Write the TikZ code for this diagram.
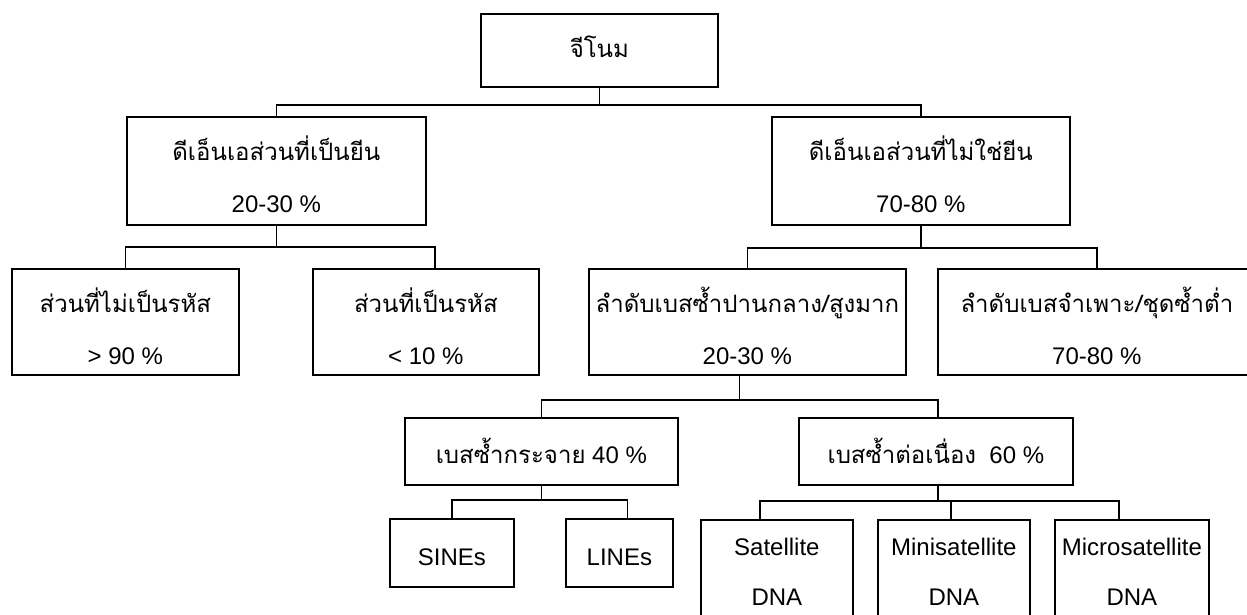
\documentclass[tikz,border=0pt]{standalone}
\usepackage{fontspec}
\setmainfont{Liberation Sans}
\newfontfamily\thai[Script=Thai]{Loma}
\usetikzlibrary{calc}
\tikzset{
  box/.style={draw, line width=1.7pt, inner sep=0pt, anchor=north west},
  txt/.style={anchor=base, inner sep=0pt, font=\fontsize{24}{28}\selectfont},
  conn/.style={line width=1.7pt},
}
\newcommand\mkbox[5]{\node[box, minimum width={(#4-#2)*1pt}, minimum height={(#5-#3)*1pt}] (#1) at (#2,#3) {};}
\begin{document}
\begin{tikzpicture}[x=1pt,y=-1pt]
\useasboundingbox (0,0) rectangle (1247,614);
\clip (0,0) rectangle (1247,614);
% boxes
\mkbox{G}{480}{13}{717}{86}
\mkbox{L1}{126}{116}{425}{224}
\mkbox{R1}{771}{116}{1069}{224}
\mkbox{L2a}{11}{268}{238}{374}
\mkbox{L2b}{312}{268}{538}{374}
\mkbox{R2a}{588}{268}{905}{374}
\mkbox{R2b}{937}{268}{1255}{374}
\mkbox{D}{404}{417}{677}{484}
\mkbox{T}{798}{417}{1072}{484}
\mkbox{SINE}{389}{518}{513}{586}
\mkbox{LINE}{565}{518}{672}{586}
\mkbox{Sat}{700}{519}{852}{640}
\mkbox{Mini}{877}{519}{1029}{640}
\mkbox{Mic}{1054}{519}{1208}{640}
% texts
\node[txt] (Gt) at (G.center |- 0,57) {\thai จีโนม};
\node[txt] (L1t) at (L1.center |- 0,160) {\thai ดีเอ็นเอส่วนที่เป็นยีน};
\node[txt] (L1p) at (L1.center |- 0,212) {20-30 \%};
\node[txt] (R1t) at (R1.center |- 0,160) {\thai ดีเอ็นเอส่วนที่ไม่ใช่ยีน};
\node[txt] (R1p) at (R1.center |- 0,212) {70-80 \%};
\node[txt] (L2at) at (L2a.center |- 0,312) {\thai ส่วนที่ไม่เป็นรหัส};
\node[txt] (L2ap) at (L2a.center |- 0,364) {> 90 \%};
\node[txt] (L2bt) at (L2b.center |- 0,312) {\thai ส่วนที่เป็นรหัส};
\node[txt] (L2bp) at (L2b.center |- 0,364) {< 10 \%};
\node[txt] (R2at) at (R2a.center |- 0,312) {\thai ลำดับเบสซ้ำปานกลาง/สูงมาก};
\node[txt] (R2ap) at (R2a.center |- 0,364) {20-30 \%};
\node[txt] (R2bt) at (R2b.center |- 0,312) {\thai ลำดับเบสจำเพาะ/ชุดซ้ำต่ำ};
\node[txt] (R2bp) at (R2b.center |- 0,364) {70-80 \%};
\node[txt] (Dt) at (D.center |- 0,463) {{\thai เบสซ้ำกระจาย} 40 \%};
\node[txt] (Tt) at (T.center |- 0,463) {{\thai เบสซ้ำต่อเนื่อง}\ \ 60 \%};
\node[txt] (SINEt) at (SINE.center |- 0,565) {SINEs};
\node[txt] (LINEt) at (LINE.center |- 0,565) {LINEs};
\node[txt] (Satt) at (Sat.center |- 0,555) {Satellite};
\node[txt] (Satd) at (Sat.center |- 0,605) {DNA};
\node[txt] (Minit) at (Mini.center |- 0,555) {Minisatellite};
\node[txt] (Minid) at (Mini.center |- 0,605) {DNA};
\node[txt] (Mict) at (Mic.center |- 0,555) {Microsatellite};
\node[txt] (Micd) at (Mic.center |- 0,605) {DNA};
% connectors
\coordinate (b0) at ($(G.south)+(0,17)$);
\draw[conn] (G.south) -- (b0);
\draw[conn] (L1.north) |- (b0) -| (R1.north);
\coordinate (b1) at ($(L1.south)+(0,21)$);
\coordinate (l2b) at ([xshift=9pt]L2b.north);
\draw[conn] (L1.south) -- (b1);
\draw[conn] (L2a.north) |- (b1) -| (l2b);
\coordinate (b2) at ($(R1.south)+(0,22)$);
\draw[conn] (R1.south) -- (b2);
\draw[conn] (R2a.north) |- (b2) -| (R2b.north);
\coordinate (r2s) at ([xshift=-8pt]R2a.south);
\coordinate (b3) at ($(r2s)+(0,24)$);
\coordinate (tn) at ([xshift=2pt]T.north);
\draw[conn] (r2s) -- (b3);
\draw[conn] (D.north) |- (b3) -| (tn);
\coordinate (b4) at ($(D.south)+(0,14)$);
\coordinate (ln) at ([xshift=8pt]LINE.north);
\draw[conn] (D.south) -- (b4);
\draw[conn] (SINE.north) |- (b4) -| (ln);
\coordinate (ts) at ([xshift=2pt]T.south);
\coordinate (b5) at ($(ts)+(0,15)$);
\coordinate (sn) at ([xshift=-17pt]Sat.north);
\coordinate (mn) at ([xshift=-3pt]Mini.north);
\coordinate (cn) at ([xshift=-13pt]Mic.north);
\draw[conn] (ts) -- (b5);
\draw[conn] (sn) |- (b5) -| (cn);
\draw[conn] (mn) -- (mn |- b5);
\end{tikzpicture}
\end{document}
